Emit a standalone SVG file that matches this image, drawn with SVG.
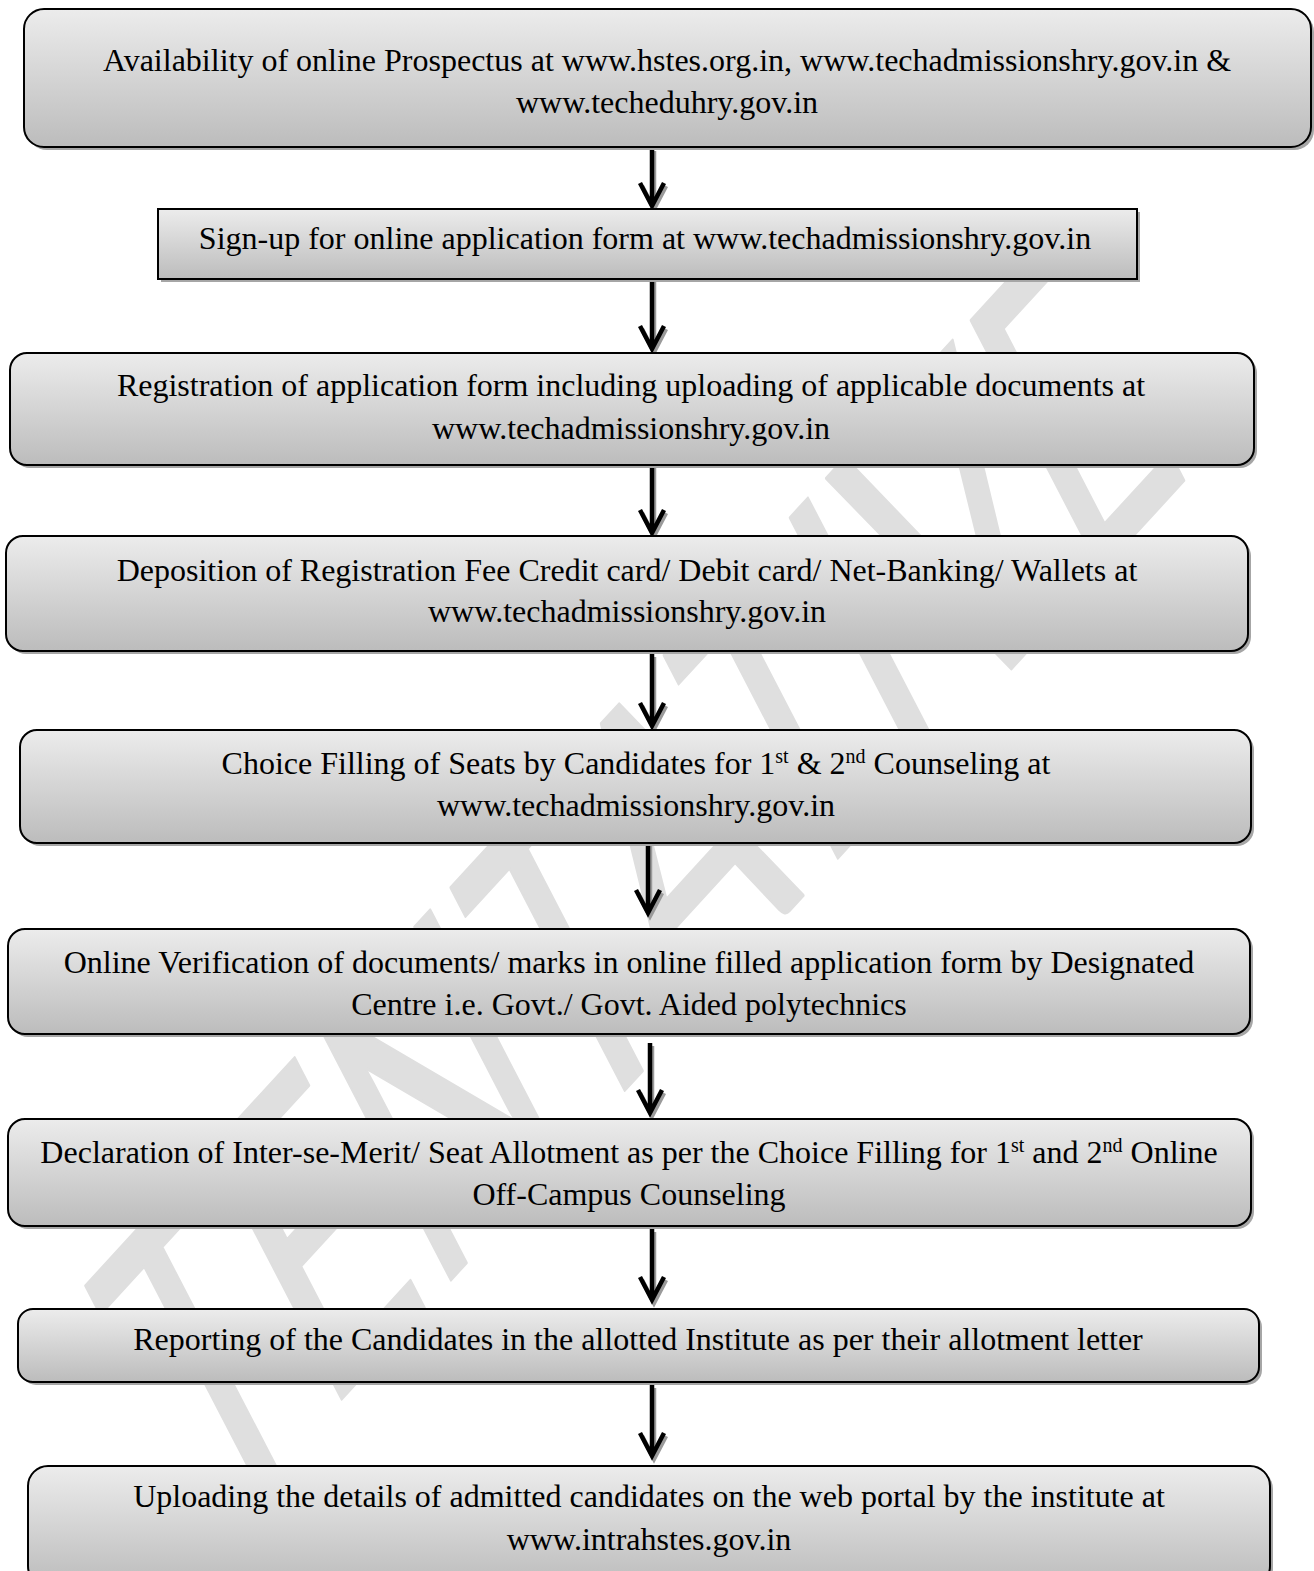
<svg xmlns="http://www.w3.org/2000/svg" width="1314" height="1571" viewBox="0 0 1314 1571">
<style>
.box{fill:url(#g);stroke:#000;stroke-width:2}
.sh{fill:#a6a6a6}
.t{font-family:"Liberation Serif","Times New Roman",serif;font-size:32px;fill:#000;text-anchor:middle}
.sup{font-size:20px}
.ln{stroke:#000;stroke-width:4.5;fill:none;stroke-linejoin:miter}
.lns{stroke:#9a9a9a;stroke-width:4.5;fill:none}
.wm{font-family:Lato,"Open Sans",sans-serif;font-size:394px;fill:#dfdfdf;stroke:#dfdfdf;stroke-width:3;stroke-linejoin:round}
</style>
<defs>
<linearGradient id="g" x1="0" y1="0" x2="0" y2="1">
<stop offset="0" stop-color="#ececec"/>
<stop offset="1" stop-color="#bcbcbc"/>
</linearGradient>
</defs>
<rect width="1314" height="1571" fill="#fff"/>
<g id="watermark">
<text class="wm" transform="matrix(0.676,-0.737,0.4607,0.8877,226,1525)" x="-20" y="0" textLength="1450" lengthAdjust="spacingAndGlyphs">TENTATIVE</text>
</g>
<g id="connectors">
<path class="lns" d="M654,151V208M642,186L654,209L666,186"/>
<path class="ln" d="M652,148V206M640,183L652,206L664,183"/>
<path class="lns" d="M654,282V351M642,329L654,352L666,329"/>
<path class="ln" d="M652,279V349M640,326L652,349L664,326"/>
<path class="lns" d="M654,468V535M642,513L654,536L666,513"/>
<path class="ln" d="M652,465V533M640,510L652,533L664,510"/>
<path class="lns" d="M654,657V728M642,706L654,729L666,706"/>
<path class="ln" d="M652,654V726M640,703L652,726L664,703"/>
<path class="lns" d="M650,846V915M638,893L650,916L662,893"/>
<path class="ln" d="M648,843V913M636,890L648,913L660,890"/>
<path class="lns" d="M652,1046V1115M640,1093L652,1116L664,1093"/>
<path class="ln" d="M650,1043V1113M638,1090L650,1113L662,1090"/>
<path class="lns" d="M654,1232V1302M642,1280L654,1303L666,1280"/>
<path class="ln" d="M652,1229V1300M640,1277L652,1300L664,1277"/>
<path class="lns" d="M654,1388V1458M642,1436L654,1459L666,1436"/>
<path class="ln" d="M652,1385V1456M640,1433L652,1456L664,1433"/>
</g>
<g id="n1">
<rect class="sh" x="27" y="12" width="1287" height="138" rx="20"/>
<rect class="box" x="24" y="9" width="1287" height="138" rx="20"/>
<text class="t" x="667" y="71">Availability of online Prospectus at www.hstes.org.in, www.techadmissionshry.gov.in &amp;</text>
<text class="t" x="667" y="113">www.techeduhry.gov.in</text>
</g>
<g id="n2">
<rect class="sh" x="161" y="212" width="979" height="70"/>
<rect class="box" x="158" y="209" width="979" height="70"/>
<text class="t" x="645" y="249">Sign-up for online application form at www.techadmissionshry.gov.in</text>
</g>
<g id="n3">
<rect class="sh" x="13" y="356" width="1244" height="112" rx="17"/>
<rect class="box" x="10" y="353" width="1244" height="112" rx="17"/>
<text class="t" x="631" y="396">Registration of application form including uploading of applicable documents at</text>
<text class="t" x="631" y="439">www.techadmissionshry.gov.in</text>
</g>
<g id="n4">
<rect class="sh" x="9" y="539" width="1242" height="115" rx="17"/>
<rect class="box" x="6" y="536" width="1242" height="115" rx="17"/>
<text class="t" x="627" y="581">Deposition of Registration Fee Credit card/ Debit card/ Net-Banking/ Wallets at</text>
<text class="t" x="627" y="622">www.techadmissionshry.gov.in</text>
</g>
<g id="n5">
<rect class="sh" x="23" y="733" width="1231" height="113" rx="17"/>
<rect class="box" x="20" y="730" width="1231" height="113" rx="17"/>
<text class="t" x="636" y="774">Choice Filling of Seats by Candidates for 1<tspan class="sup" dy="-11">st</tspan><tspan dy="11"> &amp; 2</tspan><tspan class="sup" dy="-11">nd</tspan><tspan dy="11"> Counseling at</tspan></text>
<text class="t" x="636" y="816">www.techadmissionshry.gov.in</text>
</g>
<g id="n6">
<rect class="sh" x="11" y="932" width="1242" height="105" rx="17"/>
<rect class="box" x="8" y="929" width="1242" height="105" rx="17"/>
<text class="t" x="629" y="973">Online Verification of documents/ marks in online filled application form by Designated</text>
<text class="t" x="629" y="1015">Centre i.e. Govt./ Govt. Aided polytechnics</text>
</g>
<g id="n7">
<rect class="sh" x="11" y="1122" width="1243" height="107" rx="17"/>
<rect class="box" x="8" y="1119" width="1243" height="107" rx="17"/>
<text class="t" x="629" y="1163">Declaration of Inter-se-Merit/ Seat Allotment as per the Choice Filling for 1<tspan class="sup" dy="-11">st</tspan><tspan dy="11"> and 2</tspan><tspan class="sup" dy="-11">nd</tspan><tspan dy="11"> Online</tspan></text>
<text class="t" x="629" y="1205">Off-Campus Counseling</text>
</g>
<g id="n8">
<rect class="sh" x="21" y="1312" width="1241" height="73" rx="15"/>
<rect class="box" x="18" y="1309" width="1241" height="73" rx="15"/>
<text class="t" x="638" y="1350">Reporting of the Candidates in the allotted Institute as per their allotment letter</text>
</g>
<g id="n9">
<rect class="sh" x="31" y="1469" width="1242" height="120" rx="20"/>
<rect class="box" x="28" y="1466" width="1242" height="120" rx="20"/>
<text class="t" x="649" y="1507">Uploading the details of admitted candidates on the web portal by the institute at</text>
<text class="t" x="649" y="1550">www.intrahstes.gov.in</text>
</g>
</svg>
